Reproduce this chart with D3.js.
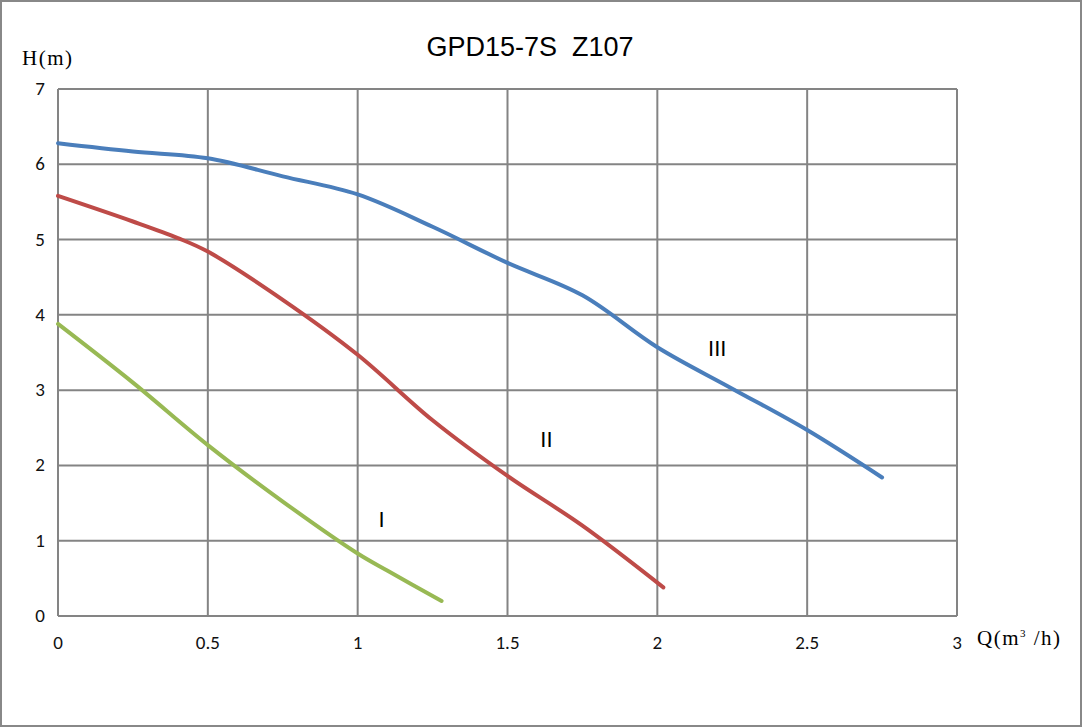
<!DOCTYPE html>
<html><head><meta charset="utf-8">
<script src="https://cdn.jsdelivr.net/npm/d3@7/dist/d3.min.js"></script>
<style>body{margin:0;background:#fff}svg{display:block}text{white-space:pre}</style>
</head><body>
<svg id="c" width="1083" height="728"></svg>
<script>
const title = "GPD15-7S  Z107";
const xTicks = [0, 0.5, 1, 1.5, 2, 2.5, 3];
const yTicks = [0, 1, 2, 3, 4, 5, 6, 7];
const qIII = [0, 0.25, 0.5, 0.75, 1.0, 1.25, 1.5, 1.75, 2.0, 2.25, 2.5, 2.75];
const hIII = [6.28, 6.17, 6.08, 5.84, 5.6, 5.17, 4.69, 4.26, 3.57, 3.02, 2.47, 1.84];
const qII = [0, 0.25, 0.4, 0.5, 0.75, 1.0, 1.25, 1.5, 1.75, 2.02];
const hII = [5.58, 5.24, 5.02, 4.84, 4.2, 3.47, 2.6, 1.86, 1.2, 0.38];
const qI = [0, 0.25, 0.5, 0.75, 1.0, 1.1, 1.28];
const hI = [3.88, 3.1, 2.27, 1.52, 0.83, 0.6, 0.2];
const labels = [{t:"III", q:2.2, h:3.45}, {t:"II", q:1.63, h:2.24}, {t:"I", q:1.08, h:1.18}];

const svg = d3.select("#c");
svg.append("rect").attr("x",1).attr("y",1).attr("width",1080).attr("height",725)
  .attr("fill","#fff").attr("stroke","#888").attr("stroke-width",2);

const x = d3.scaleLinear().domain([0,3]).range([58,957]);
const y = d3.scaleLinear().domain([0,7]).range([616,89]);

const g = svg.append("g");
g.selectAll(".vg").data(xTicks).join("line")
  .attr("x1",d=>x(d)).attr("x2",d=>x(d)).attr("y1",y(0)).attr("y2",y(7))
  .attr("stroke","#848484").attr("stroke-width",2);
g.selectAll(".hg").data(yTicks).join("line")
  .attr("y1",d=>y(d)).attr("y2",d=>y(d)).attr("x1",x(0)).attr("x2",x(3))
  .attr("stroke","#848484").attr("stroke-width",2);

const font = "Carlito, Calibri, 'Open Sans', sans-serif";
g.selectAll(".yt").data(yTicks).join("text")
  .attr("x",45).attr("y",d=>y(d)+6).attr("text-anchor","end")
  .attr("font-family",font).attr("font-size",19).attr("fill","#111").text(d=>d);
g.selectAll(".xt").data(xTicks).join("text")
  .attr("x",d=>x(d)).attr("y",649).attr("text-anchor","middle")
  .attr("font-family",font).attr("font-size",19).attr("fill","#111").text(d=>d);

const line = d3.line().x(d=>x(d[0])).y(d=>y(d[1])).curve(d3.curveCatmullRom.alpha(0.5));
const series = [
  {q:qI, h:hI, c:"#98B954"},
  {q:qII, h:hII, c:"#BE4B48"},
  {q:qIII, h:hIII, c:"#4A7EBB"}
];
series.forEach(s=>{
  g.append("path").datum(s.q.map((q,i)=>[q,s.h[i]])).attr("d",line)
    .attr("fill","none").attr("stroke",s.c).attr("stroke-width",4).attr("stroke-linecap","round");
});

g.selectAll(".lb").data(labels).join("text")
  .attr("x",d=>x(d.q)).attr("y",d=>y(d.h)).attr("text-anchor","middle")
  .attr("font-family","'Liberation Sans', Arial, sans-serif").attr("font-size",22).attr("fill","#000")
  .text(d=>d.t);

svg.append("text").attr("x",530).attr("y",56).attr("text-anchor","middle")
  .attr("font-family","'Liberation Sans', Arial, sans-serif").attr("font-size",27).attr("fill","#000")
  .text(title);

svg.append("text").attr("x",22).attr("y",65)
  .attr("font-family","'Liberation Serif', 'Times New Roman', serif").attr("font-size",21).attr("fill","#000")
  .attr("letter-spacing",1.5)
  .text("H(m)");
const qt = svg.append("text").attr("x",977).attr("y",645)
  .attr("font-family","'Liberation Serif', 'Times New Roman', serif").attr("font-size",21).attr("fill","#000")
  .attr("letter-spacing",1.5);
qt.append("tspan").text("Q(m");
qt.append("tspan").attr("font-size",11).attr("dy",-8).text("3");
qt.append("tspan").attr("dy",8).text(" /h)");
</script>
</body></html>
